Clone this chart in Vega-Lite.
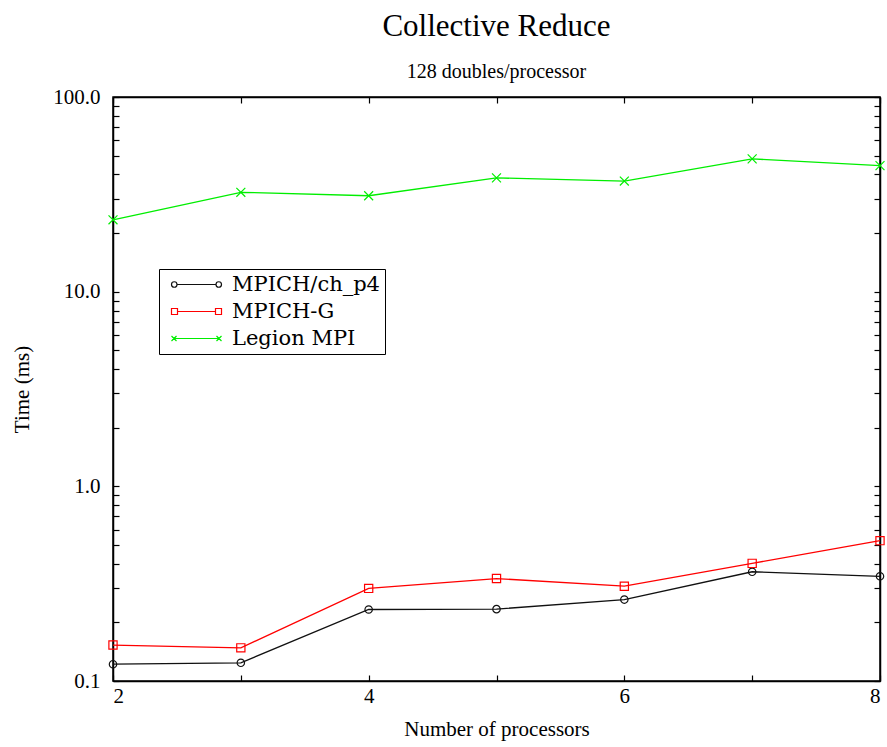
{
  "$schema": "https://vega.github.io/schema/vega-lite/v6.json",
  "autosize": "none",
  "width": 767,
  "height": 584,
  "padding": {"left": 113, "top": 97, "right": 7, "bottom": 66},
  "background": "white",
  "title": {
    "text": "Collective Reduce",
    "subtitle": "128 doubles/processor",
    "anchor": "middle",
    "font": "Liberation Serif",
    "fontSize": 31,
    "fontWeight": "normal",
    "color": "black",
    "subtitleFont": "Liberation Serif",
    "subtitleFontSize": 20,
    "subtitleColor": "black",
    "subtitlePadding": 19,
    "offset": 3
  },
  "config": {
    "view": {"stroke": "black", "strokeWidth": 1.5},
    "axis": {
      "labelFont": "Liberation Serif",
      "titleFont": "Liberation Serif",
      "labelFontSize": 21,
      "titleFontSize": 21,
      "titleFontWeight": "normal",
      "labelColor": "black",
      "titleColor": "black",
      "domainColor": "black",
      "domainWidth": 1.5,
      "tickColor": "black",
      "tickWidth": 1.2,
      "grid": false
    }
  },
  "data": {
    "values": [
      {"p": 2, "series": "MPICH/ch_p4", "t": 0.122},
      {"p": 3, "series": "MPICH/ch_p4", "t": 0.124},
      {"p": 4, "series": "MPICH/ch_p4", "t": 0.233},
      {"p": 5, "series": "MPICH/ch_p4", "t": 0.234},
      {"p": 6, "series": "MPICH/ch_p4", "t": 0.262},
      {"p": 7, "series": "MPICH/ch_p4", "t": 0.364},
      {"p": 8, "series": "MPICH/ch_p4", "t": 0.345},
      {"p": 2, "series": "MPICH-G", "t": 0.153},
      {"p": 3, "series": "MPICH-G", "t": 0.148},
      {"p": 4, "series": "MPICH-G", "t": 0.299},
      {"p": 5, "series": "MPICH-G", "t": 0.336},
      {"p": 6, "series": "MPICH-G", "t": 0.307},
      {"p": 7, "series": "MPICH-G", "t": 0.402},
      {"p": 8, "series": "MPICH-G", "t": 0.526},
      {"p": 2, "series": "Legion MPI", "t": 23.4},
      {"p": 3, "series": "Legion MPI", "t": 32.4},
      {"p": 4, "series": "Legion MPI", "t": 31.1},
      {"p": 5, "series": "Legion MPI", "t": 38.4},
      {"p": 6, "series": "Legion MPI", "t": 37.0},
      {"p": 7, "series": "Legion MPI", "t": 48.1},
      {"p": 8, "series": "Legion MPI", "t": 44.4}
    ]
  },
  "resolve": {
    "axis": {"x": "independent", "y": "independent"},
    "scale": {"color": "independent", "shape": "independent"}
  },
  "layer": [
    {
      "mark": {"type": "line", "strokeWidth": 1.3},
      "encoding": {
        "x": {
          "field": "p", "type": "quantitative",
          "scale": {"domain": [2, 8], "nice": false, "zero": false},
          "axis": {
            "title": "Number of processors",
            "values": [2, 3, 4, 5, 6, 7, 8],
            "labelExpr": "datum.value % 2 == 0 ? datum.value : ''",
            "tickSize": -6,
            "labelBaseline": "top",
            "labelPadding": 10,
            "titlePadding": 12
          }
        },
        "y": {
          "field": "t", "type": "quantitative",
          "scale": {"type": "log", "domain": [0.1, 100], "nice": false},
          "axis": {
            "title": "Time (ms)",
            "values": [0.1, 0.2, 0.3, 0.4, 0.5, 0.6, 0.7, 0.8, 0.9, 1, 2, 3, 4, 5, 6, 7, 8, 9, 10, 20, 30, 40, 50, 60, 70, 80, 90, 100],
            "labelExpr": "abs(log(datum.value)/LN10 - round(log(datum.value)/LN10)) < 0.001 ? format(datum.value, '.1f') : ''",
            "tickSize": -6,
            "labelPadding": 19,
            "titlePadding": 20
          }
        },
        "color": {
          "field": "series", "type": "nominal",
          "scale": {"domain": ["MPICH/ch_p4", "MPICH-G", "Legion MPI"], "range": ["#111111", "#ff0000", "#00ee00"]},
          "legend": null
        }
      }
    },
    {
      "mark": {"type": "point", "filled": false, "strokeWidth": 1.2, "opacity": 1},
      "encoding": {
        "x": {
          "field": "p", "type": "quantitative",
          "axis": {"orient": "top", "title": null, "labels": false, "values": [2, 3, 4, 5, 6, 7, 8], "tickSize": -6}
        },
        "y": {
          "field": "t", "type": "quantitative",
          "axis": {"orient": "right", "title": null, "labels": false, "values": [0.1, 0.2, 0.3, 0.4, 0.5, 0.6, 0.7, 0.8, 0.9, 1, 2, 3, 4, 5, 6, 7, 8, 9, 10, 20, 30, 40, 50, 60, 70, 80, 90, 100], "tickSize": -6}
        },
        "color": {
          "field": "series", "type": "nominal",
          "scale": {"domain": ["MPICH/ch_p4", "MPICH-G", "Legion MPI"], "range": ["#111111", "#ff0000", "#00ee00"]},
          "legend": null
        },
        "shape": {
          "field": "series", "type": "nominal",
          "scale": {"domain": ["MPICH/ch_p4", "MPICH-G", "Legion MPI"], "range": ["circle", "square", "M-1,-1L1,1M-1,1L1,-1"]},
          "legend": null
        },
        "size": {
          "field": "series", "type": "nominal",
          "scale": {"domain": ["MPICH/ch_p4", "MPICH-G", "Legion MPI"], "range": [55, 80, 40]},
          "legend": null
        }
      }
    },
    {
      "transform": [{"filter": "false"}],
      "mark": {"type": "point", "filled": false, "strokeWidth": 1.2, "opacity": 1},
      "encoding": {
        "color": {
          "field": "series", "type": "nominal",
          "scale": {"domain": ["MPICH/ch_p4", "MPICH-G", "Legion MPI"], "range": ["#111111", "#ff0000", "#00ee00"]},
          "legend": {
            "title": null,
            "orient": "none",
            "legendX": 46,
            "legendY": 172,
            "strokeColor": "black",
            "fillColor": "white",
            "padding": 5,
            "labelFont": "DejaVu Serif",
            "labelFontSize": 21,
            "labelColor": "black",
            "symbolSize": 100,
            "symbolStrokeWidth": 1.2,
            "rowPadding": 5,
            "labelOffset": 47,
            "encode": {"legend": {"update": {"strokeWidth": {"value": 1.5}}}}
          }
        },
        "shape": {
          "field": "series", "type": "nominal",
          "scale": {
            "domain": ["MPICH/ch_p4", "MPICH-G", "Legion MPI"],
            "range": [
              "M-0.6,0a0.55,0.55 0 1,0 1.1,0a0.55,0.55 0 1,0 -1.1,0M0.5,0H8.3M8.3,0a0.55,0.55 0 1,0 1.1,0a0.55,0.55 0 1,0 -1.1,0",
              "M-0.6,-0.6h1.2v1.2h-1.2zM0.6,0H8.2M8.2,-0.6h1.2v1.2h-1.2z",
              "M-0.6,-0.5l1,1M-0.6,0.5l1,-1M-0.1,0H8.9M8.4,-0.5l1,1M8.4,0.5l1,-1"
            ]
          },
          "legend": {
            "title": null,
            "orient": "none",
            "legendX": 46,
            "legendY": 172,
            "strokeColor": "black",
            "fillColor": "white",
            "padding": 5,
            "labelFont": "DejaVu Serif",
            "labelFontSize": 21,
            "labelColor": "black",
            "symbolSize": 100,
            "symbolStrokeWidth": 1.2,
            "rowPadding": 5,
            "labelOffset": 47,
            "encode": {"legend": {"update": {"strokeWidth": {"value": 1.5}}}}
          }
        }
      }
    }
  ]
}
